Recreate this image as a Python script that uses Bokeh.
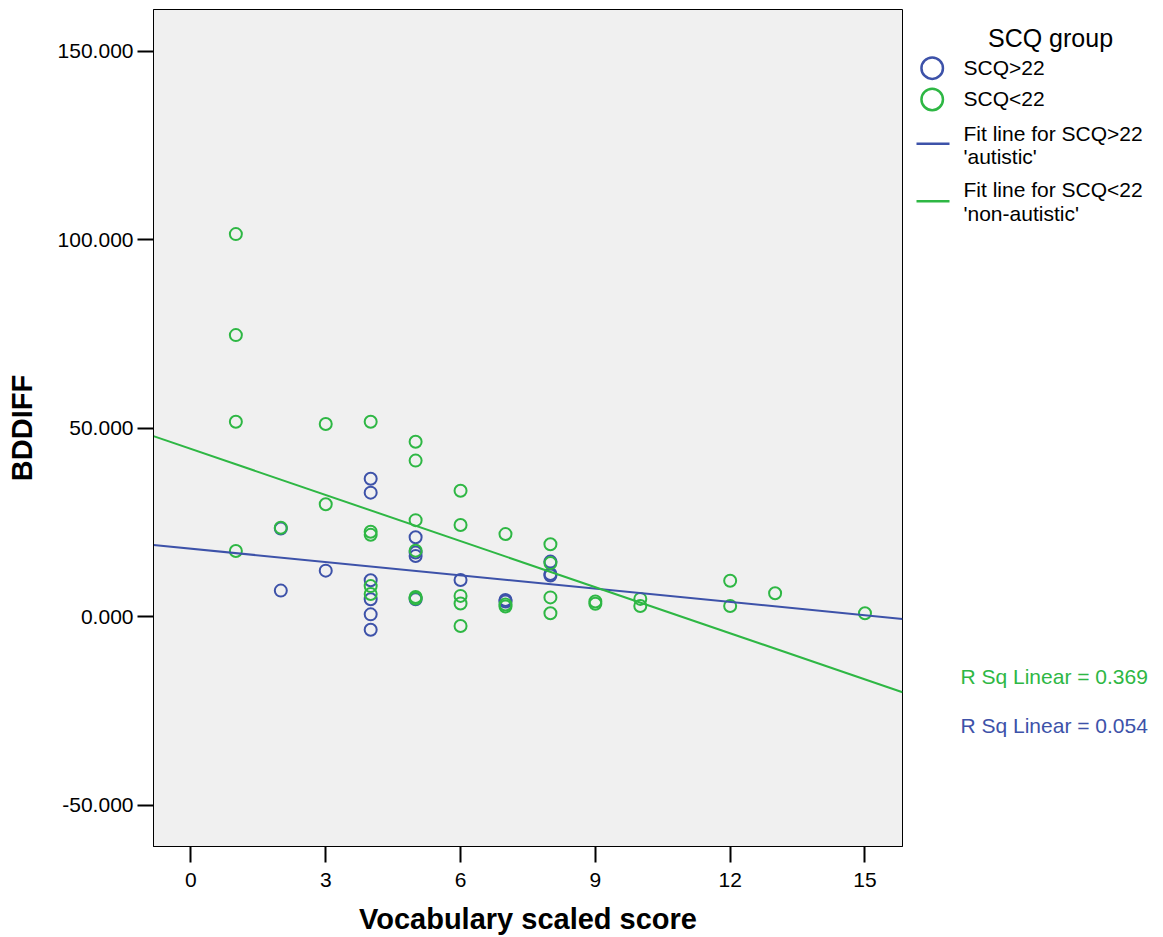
from bokeh.plotting import figure
from bokeh.models import Range1d, FixedTicker, NumeralTickFormatter
from bokeh.layouts import row
from bokeh.embed import file_html
from bokeh.resources import INLINE
from bokeh.core.properties import value

FONT = "Liberation Sans"
BLUE = "#3D52A9"
GREEN = "#2EB744"

# ---------------- data ----------------
blue_x = [2, 2, 3, 4, 4, 4, 4, 4, 4, 5, 5, 5, 5, 6, 7, 7, 8, 8, 8]
blue_y = [23.4, 6.9, 12.2, 36.6, 32.9, 9.65, 4.6, 0.6, -3.5,
          21.05, 17.0, 16.1, 4.6, 9.7, 4.4, 4.0, 14.6, 11.3, 10.9]

green_x = [1, 1, 1, 1, 2, 3, 3, 4, 4, 4, 4, 4, 5, 5, 5, 5, 5, 5,
           6, 6, 6, 6, 6, 7, 7, 7, 8, 8, 8, 8, 9, 9, 10, 10, 12, 12, 13, 15]
green_y = [101.5, 74.7, 51.7, 17.4, 23.6, 51.1, 29.8, 51.7, 22.5, 21.7, 8.1, 6.0,
           46.4, 41.4, 25.6, 17.5, 5.2, 4.8, 33.4, 24.3, 5.5, 3.5, -2.5,
           21.9, 3.2, 2.7, 19.2, 14.2, 5.1, 0.9, 4.0, 3.4, 4.7, 2.8, 9.5, 2.8, 6.2, 0.9]

# fit lines: [intercept, slope]
fit_blue = [18.02, -1.176]
fit_green = [44.5, -4.077]
r_sq_blue = 0.054
r_sq_green = 0.369

x_ticks = [0, 3, 6, 9, 12, 15]
y_ticks = [-50, 0, 50, 100, 150]
x_label = "Vocabulary scaled score"
y_label = "BDDIFF"
legend_title = "SCQ group"
legend_labels = ["SCQ>22", "SCQ<22",
                 ["Fit line for SCQ>22", "'autistic'"],
                 ["Fit line for SCQ<22", "'non-autistic'"]]

# ---------------- main plot ----------------
X0, X1 = -0.833, 15.835
Y0, Y1 = -61.0, 161.1
H = 937
TOP, BOTTOM = 9, 90

p = figure(width=904, height=H, x_range=Range1d(X0, X1), y_range=Range1d(Y0, Y1),
           output_backend="svg", toolbar_location=None,
           min_border_left=153, min_border_right=2, min_border_top=TOP, min_border_bottom=BOTTOM,
           background_fill_color="#F0F0F0", border_fill_color="white",
           outline_line_color="black", outline_line_width=1)
p.xgrid.visible = False
p.ygrid.visible = False

for ax in (p.xaxis[0], p.yaxis[0]):
    ax.axis_line_color = "black"
    ax.axis_line_width = 1
    ax.major_tick_out = 16
    ax.major_tick_in = 0
    ax.minor_tick_out = 0
    ax.minor_tick_in = 0
    ax.major_tick_line_width = 2
    ax.major_tick_line_color = "black"
    ax.major_label_text_font = FONT
    ax.major_label_text_font_size = "21px"
    ax.major_label_text_color = "black"
    ax.axis_label_text_font = FONT
    ax.axis_label_text_font_size = "29px"
    ax.axis_label_text_font_style = "bold"
    ax.axis_label_text_color = "black"

p.xaxis.ticker = FixedTicker(ticks=x_ticks)
p.yaxis.ticker = FixedTicker(ticks=y_ticks)
p.yaxis.formatter = NumeralTickFormatter(format="0.000")
p.xaxis.axis_label = x_label
p.yaxis.axis_label = y_label
p.xaxis.major_label_standoff = 10
p.xaxis.axis_label_standoff = 13
p.yaxis.major_label_standoff = 4
p.yaxis.axis_label_standoff = 17

p.scatter(blue_x, blue_y, marker="circle", size=12, fill_color=None,
          line_color=BLUE, line_width=2)
p.scatter(green_x, green_y, marker="circle", size=12, fill_color=None,
          line_color=GREEN, line_width=2)

line_x = [X0, X1]
p.line(line_x, [fit_blue[0] + fit_blue[1] * x for x in line_x], line_color=BLUE, line_width=2)
p.line(line_x, [fit_green[0] + fit_green[1] * x for x in line_x], line_color=GREEN, line_width=2)

# ---------------- legend / annotation panel ----------------
# (its frame is aligned with the main frame by the row layout, so its
#  vertical range is set to the page pixels that frame spans)
LW = 1163 - 904
lg = figure(width=LW, height=H, x_range=Range1d(0, LW), y_range=Range1d(H - BOTTOM, TOP),
            output_backend="svg", toolbar_location=None, min_border=0,
            min_border_top=TOP, min_border_bottom=BOTTOM,
            x_axis_type=None, y_axis_type=None,
            outline_line_color=None, background_fill_color="white", border_fill_color="white")
lg.grid.visible = False

tf = value(FONT)
lg.text(x=[146], y=[38], text=[legend_title], text_font=tf, text_font_size="25px",
        text_align="center", text_baseline="middle", text_color="black")

lg.scatter(x=[27.7], y=[67.7], marker="circle", size=21.5, fill_color=None,
           line_color=BLUE, line_width=2.5)
lg.scatter(x=[27.7], y=[99], marker="circle", size=21.5, fill_color=None,
           line_color=GREEN, line_width=2.5)
lg.line(x=[12, 45], y=[143.3, 143.3], line_color=BLUE, line_width=2.5)
lg.line(x=[12, 45], y=[201, 201], line_color=GREEN, line_width=2.5)

item_text = [legend_labels[0], legend_labels[1],
             legend_labels[2][0], legend_labels[2][1],
             legend_labels[3][0], legend_labels[3][1]]
item_y = [67, 98, 132.7, 156, 189, 213]
lg.text(x=[59] * len(item_text), y=item_y, text=item_text, text_font=tf,
        text_font_size="21px", text_align="left", text_baseline="middle", text_color="black")

lg.text(x=[56], y=[676.5], text=[f"R Sq Linear = {r_sq_green:.3f}"], text_font=tf,
        text_font_size="21px", text_align="left", text_baseline="middle", text_color=GREEN)
lg.text(x=[56], y=[725.5], text=[f"R Sq Linear = {r_sq_blue:.3f}"], text_font=tf,
        text_font_size="21px", text_align="left", text_baseline="middle", text_color=BLUE)

layout = row(p, lg)
open("out.html", "w").write(file_html(layout, INLINE))
